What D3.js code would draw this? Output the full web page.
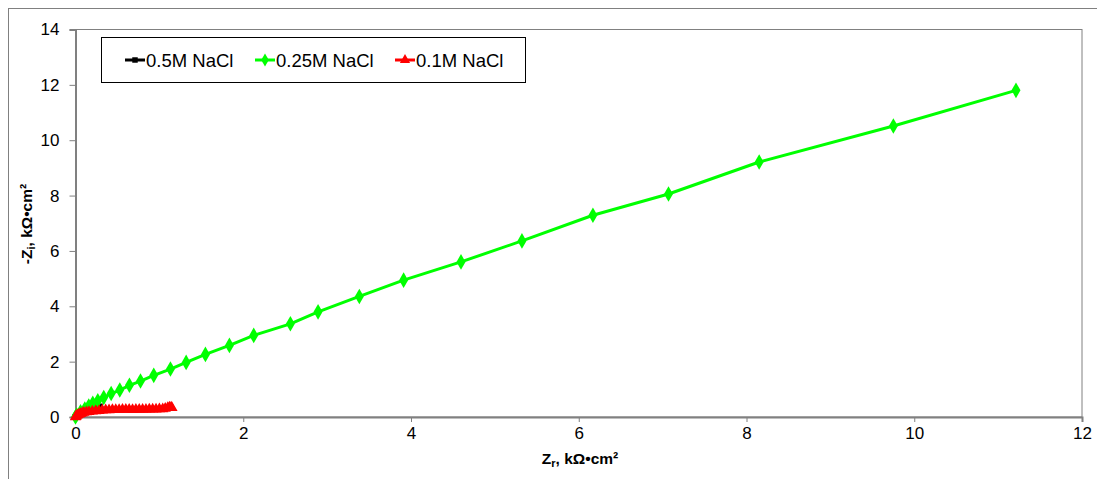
<!DOCTYPE html>
<html><head><meta charset="utf-8">
<script src="https://cdn.jsdelivr.net/npm/d3@7"></script>
<style>body{margin:0;background:#fff}svg{display:block}</style>
</head><body><svg id="c" width="1097" height="479"></svg>
<script>
const xTicks = [0,2,4,6,8,10,12];
const yTicks = [0,2,4,6,8,10,12,14];
const seriesNames = ["0.5M NaCl","0.25M NaCl","0.1M NaCl"];
const seriesColors = ["#000000","#00ff00","#ff0000"];
const black_x = [0,0.01,0.02,0.035,0.05,0.07,0.09,0.12,0.15,0.18,0.21,0.24,0.27,0.29];
const black_y = [0,0.02,0.04,0.07,0.09,0.12,0.15,0.18,0.22,0.25,0.28,0.31,0.35,0.38];
const green_x = [0,0.012,0.060,0.111,0.158,0.206,0.266,0.337,0.425,0.528,0.643,0.775,0.933,1.132,1.319,1.549,1.835,2.125,2.562,2.892,3.384,3.912,4.596,5.323,6.169,7.070,8.151,9.751,11.213];
const green_y = [0,0.072,0.191,0.289,0.397,0.494,0.588,0.704,0.848,0.974,1.144,1.299,1.505,1.732,1.973,2.262,2.587,2.948,3.367,3.799,4.356,4.944,5.604,6.362,7.290,8.058,9.213,10.513,11.801];
const red_x = [0,0.005,0.01,0.02,0.03,0.045,0.06,0.08,0.10,0.13,0.16,0.20,0.24,0.28,0.32,0.36,0.40,0.44,0.48,0.52,0.56,0.60,0.64,0.68,0.72,0.76,0.80,0.84,0.88,0.92,0.96,1.00,1.04,1.07,1.10,1.12,1.14,1.15];
const red_y = [0,0.02,0.04,0.06,0.08,0.10,0.12,0.14,0.16,0.18,0.19,0.21,0.22,0.23,0.24,0.25,0.25,0.26,0.26,0.26,0.27,0.27,0.27,0.26,0.27,0.27,0.27,0.27,0.28,0.28,0.28,0.29,0.29,0.31,0.33,0.35,0.35,0.33];

const svg = d3.select("#c");
const L=75.5, R=1082, T=29.5, B=417;
const x = d3.scaleLinear().domain([0,12]).range([L,R]);
const y = d3.scaleLinear().domain([0,14]).range([B,T]);

svg.append("rect").attr("x",8.5).attr("y",8.5).attr("width",1200).attr("height",600)
  .attr("fill","none").attr("stroke","#808080").attr("stroke-width",1);
svg.append("rect").attr("x",L).attr("y",T).attr("width",R-L).attr("height",B-T)
  .attr("fill","none").attr("stroke","#808080").attr("stroke-width",1);

const font = "'Liberation Sans', Arial, sans-serif";
const xa = svg.append("g").attr("transform",`translate(0,${B})`)
  .call(d3.axisBottom(x).tickValues(xTicks).tickSize(5).tickPadding(5).tickFormat(d3.format("d")));
const ya = svg.append("g").attr("transform",`translate(${L},0)`)
  .call(d3.axisLeft(y).tickValues(yTicks).tickSize(6).tickPadding(10).tickFormat(d3.format("d")));
[xa,ya].forEach(a=>{
  a.select(".domain").attr("stroke","#808080").attr("stroke-width",2);
  a.selectAll(".tick line").attr("stroke","#808080").attr("stroke-width",1);
  a.selectAll("text").attr("font-family",font).attr("font-size",17).attr("fill","#000");
});

const data = [
  {xs:black_x, ys:black_y, sym:d3.symbolSquare, size:36},
  {xs:green_x, ys:green_y, sym:d3.symbolDiamond, size:70},
  {xs:red_x, ys:red_y, sym:d3.symbolTriangle, size:55}
];
const line = d3.line().x(d=>x(d[0])).y(d=>y(d[1]));
data.forEach((s,i)=>{
  const pts = s.xs.map((v,j)=>[v,s.ys[j]]);
  const g = svg.append("g");
  g.append("path").datum(pts).attr("d",line).attr("fill","none")
    .attr("stroke",seriesColors[i]).attr("stroke-width",3).attr("stroke-linejoin","round");
  g.selectAll("path.m").data(pts).enter().append("path").attr("class","m")
    .attr("transform",d=>`translate(${x(d[0])},${y(d[1])})`)
    .attr("d",d3.symbol().type(s.sym).size(s.size)).attr("fill",seriesColors[i]);
});

const lg = svg.append("g");
lg.append("rect").attr("x",101.5).attr("y",37.5).attr("width",424).attr("height",45)
  .attr("fill","#fff").attr("stroke","#000").attr("stroke-width",1);
const lx = [125,255,395];
const syms = [d3.symbolSquare,d3.symbolDiamond,d3.symbolTriangle];
const ssz = [30,50,45];
seriesNames.forEach((n,i)=>{
  lg.append("line").attr("x1",lx[i]).attr("x2",lx[i]+20).attr("y1",60).attr("y2",60)
    .attr("stroke",seriesColors[i]).attr("stroke-width",3);
  lg.append("path").attr("transform",`translate(${lx[i]+10},60)`)
    .attr("d",d3.symbol().type(syms[i]).size(ssz[i])).attr("fill",seriesColors[i]);
  lg.append("text").attr("x",lx[i]+21).attr("y",66.5).attr("font-family",font)
    .attr("font-size",18.5).text(n);
});

const xt = svg.append("text").attr("x",580).attr("y",464).attr("text-anchor","middle")
  .attr("font-family",font).attr("font-size",15.5).attr("font-weight","bold");
xt.append("tspan").text("Z");
xt.append("tspan").attr("font-size",11).attr("dy",3).text("r");
xt.append("tspan").attr("dy",-3).text(", kΩ•cm²");
const yt = svg.append("text").attr("transform","translate(32,224) rotate(-90)").attr("text-anchor","middle")
  .attr("font-family",font).attr("font-size",15.5).attr("font-weight","bold");
yt.append("tspan").text("-Z");
yt.append("tspan").attr("font-size",11).attr("dy",3).text("i");
yt.append("tspan").attr("dy",-3).text(", kΩ•cm²");
</script></body></html>
